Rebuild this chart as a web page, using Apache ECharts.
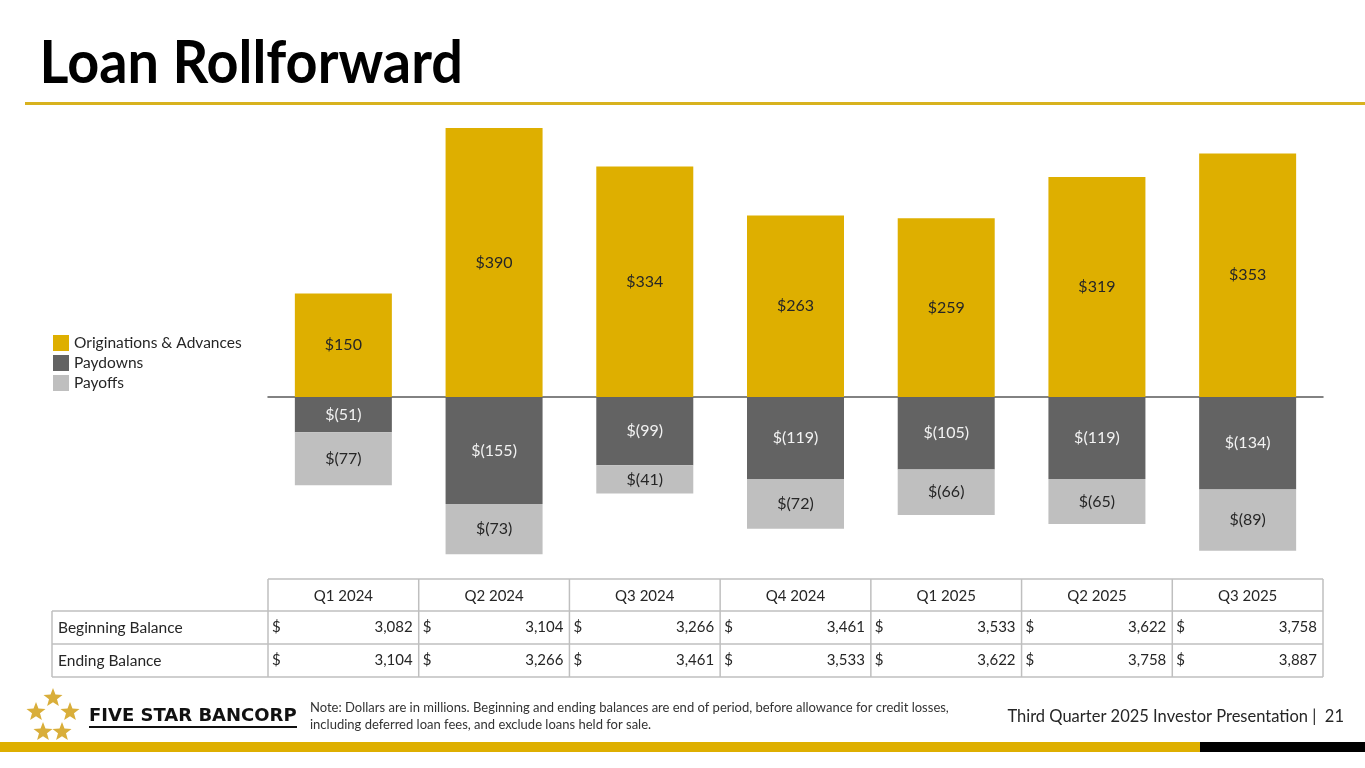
<!DOCTYPE html>
<html>
<head>
<meta charset="utf-8">
<script src="https://cdn.jsdelivr.net/npm/echarts@6/dist/echarts.min.js"></script>
<style>
html,body{margin:0;padding:0;background:#fff;}
#c{width:1365px;height:768px;}
</style>
</head>
<body>
<div id="c"></div>
<script>
const quarters = ['Q1 2024','Q2 2024','Q3 2024','Q4 2024','Q1 2025','Q2 2025','Q3 2025'];
const originations = [150,390,334,263,259,319,353];
const paydowns = [-51,-155,-99,-119,-105,-119,-134];
const payoffs = [-77,-73,-41,-72,-66,-65,-89];
const beginningBalance = [3082,3104,3266,3461,3533,3622,3758];
const endingBalance = [3104,3266,3461,3533,3622,3758,3887];
const rowLabels = ['Beginning Balance','Ending Balance'];

const FONT = 'Lato, "Open Sans", sans-serif';
const GOLD = '#DEAF00';
const DARK = '#636363';
const LIGHT = '#BFBFBF';

const chart = echarts.init(document.getElementById('c'));

const plotL = 268, plotR = 1323;
const colW = (plotR - plotL) / quarters.length;

function money(v){ return v >= 0 ? '$' + v : '$(' + (-v) + ')'; }
function fmt(n){ return n.toLocaleString('en-US'); }

function starPoints(cx, cy, r){
  const pts = [];
  const ri = r * 0.42;
  for (let i = 0; i < 10; i++){
    const a = -Math.PI/2 + i * Math.PI/5;
    const rr = i % 2 === 0 ? r : ri;
    pts.push([cx + rr*Math.cos(a), cy + rr*Math.sin(a)]);
  }
  return pts;
}

const graphics = [];
// title
graphics.push({type:'text', x:37, y:64, scaleX:0.93, originX:37, originY:64,
  style:{text:'Loan Rollforward', font:'bold 60px ' + FONT, fill:'#000', align:'left', verticalAlign:'middle'}});
// top gold rule
graphics.push({type:'rect', shape:{x:25, y:102, width:1340, height:3}, style:{fill:'#D8B21E'}});
// bottom band
graphics.push({type:'rect', shape:{x:0, y:742, width:1200, height:10}, style:{fill:GOLD}});
graphics.push({type:'rect', shape:{x:1200, y:742, width:165, height:10}, style:{fill:'#000'}});

// table
const tTop = 579, hH = 32, rH = 33, labelL = 52;
const lineColor = '#BFBFBF';
const TF = '15px ' + FONT;
const tbl = [];
tbl.push({type:'line', shape:{x1:plotL, y1:tTop, x2:plotR, y2:tTop}, style:{stroke:lineColor, lineWidth:1.5}});
for (let r = 0; r <= 2; r++){
  const y = tTop + hH + r*rH;
  tbl.push({type:'line', shape:{x1:labelL, y1:y, x2:plotR, y2:y}, style:{stroke:lineColor, lineWidth:1.5}});
}
tbl.push({type:'line', shape:{x1:labelL, y1:tTop+hH, x2:labelL, y2:tTop+hH+2*rH}, style:{stroke:lineColor, lineWidth:1.5}});
for (let i = 0; i <= quarters.length; i++){
  const x = plotL + i*colW;
  tbl.push({type:'line', shape:{x1:x, y1:tTop, x2:x, y2:tTop+hH+2*rH}, style:{stroke:lineColor, lineWidth:1.5}});
}
quarters.forEach((q,i)=>{
  const x0 = plotL + i*colW;
  tbl.push({type:'text', x:x0+colW/2, y:tTop+hH/2+1, style:{text:q, font:TF, fill:'#262626', align:'center', verticalAlign:'middle'}});
  [beginningBalance, endingBalance].forEach((arr,r)=>{
    const yc = tTop + hH + r*rH + rH/2;
    tbl.push({type:'text', x:x0+4, y:yc, style:{text:'$', font:TF, fill:'#262626', align:'left', verticalAlign:'middle'}});
    tbl.push({type:'text', x:x0+colW-6, y:yc, style:{text:fmt(arr[i]), font:TF, fill:'#262626', align:'right', verticalAlign:'middle'}});
  });
});
rowLabels.forEach((t,r)=>{
  const yc = tTop + hH + r*rH + rH/2;
  tbl.push({type:'text', x:labelL+6, y:yc, style:{text:t, font:'15.5px '+FONT, fill:'#262626', align:'left', verticalAlign:'middle'}});
});
graphics.push({type:'group', children:tbl});

// logo
const starC = [[53,698],[36,712],[70,712],[43,732],[62,732]];
starC.forEach(p=>{
  graphics.push({type:'polygon', shape:{points:starPoints(p[0],p[1],10)}, style:{fill:'#D9AE3A'}});
});
graphics.push({type:'text', x:89, y:716, style:{text:'FIVE STAR BANCORP', font:'bold 18px "DejaVu Sans", sans-serif', fill:'#111', align:'left', verticalAlign:'middle'}});
graphics.push({type:'rect', shape:{x:89, y:726, width:208, height:2}, style:{fill:'#111'}});

// note
graphics.push({type:'text', x:310, y:699, style:{text:'Note: Dollars are in millions. Beginning and ending balances are end of period, before allowance for credit losses,\nincluding deferred loan fees, and exclude loans held for sale.', font:'13px '+FONT, fill:'#333', lineHeight:17, align:'left', verticalAlign:'top'}});
// footer
graphics.push({type:'text', x:1344, y:717, style:{text:'Third Quarter 2025 Investor Presentation |  21', font:'16.5px '+FONT, fill:'#262626', align:'right', verticalAlign:'middle'}});

const labelBase = {show:true, position:'inside', formatter:p=>money(p.value), fontFamily:FONT, fontSize:16};

chart.setOption({
  animation:false,
  backgroundColor:'#fff',
  textStyle:{fontFamily:FONT},
  legend:{
    orient:'vertical', left:53, top:335, padding:0, itemWidth:16, itemHeight:16, itemGap:4,
    icon:'rect', textStyle:{fontSize:15.5, color:'#262626', fontFamily:FONT},
    data:['Originations & Advances','Paydowns','Payoffs']
  },
  grid:{left:plotL, right:1365-plotR, top:121, bottom:198.5, containLabel:false},
  xAxis:{
    type:'category', data:quarters,
    axisLine:{show:true, onZero:true, lineStyle:{color:'#595959', width:1.5}},
    axisTick:{show:false}, axisLabel:{show:false}, splitLine:{show:false}
  },
  yAxis:{
    type:'value', min:-250, max:400, interval:50, show:false, splitLine:{show:false}
  },
  series:[
    {name:'Originations & Advances', type:'bar', stack:'t', data:originations, barWidth:97, itemStyle:{color:GOLD}, label:Object.assign({}, labelBase, {color:'#262626'})},
    {name:'Paydowns', type:'bar', stack:'t', data:paydowns, barWidth:97, itemStyle:{color:DARK}, label:Object.assign({}, labelBase, {color:'#F2F2F2'})},
    {name:'Payoffs', type:'bar', stack:'t', data:payoffs, barWidth:97, itemStyle:{color:LIGHT}, label:Object.assign({}, labelBase, {color:'#262626'})}
  ],
  graphic:graphics
});
</script>
</body>
</html>
